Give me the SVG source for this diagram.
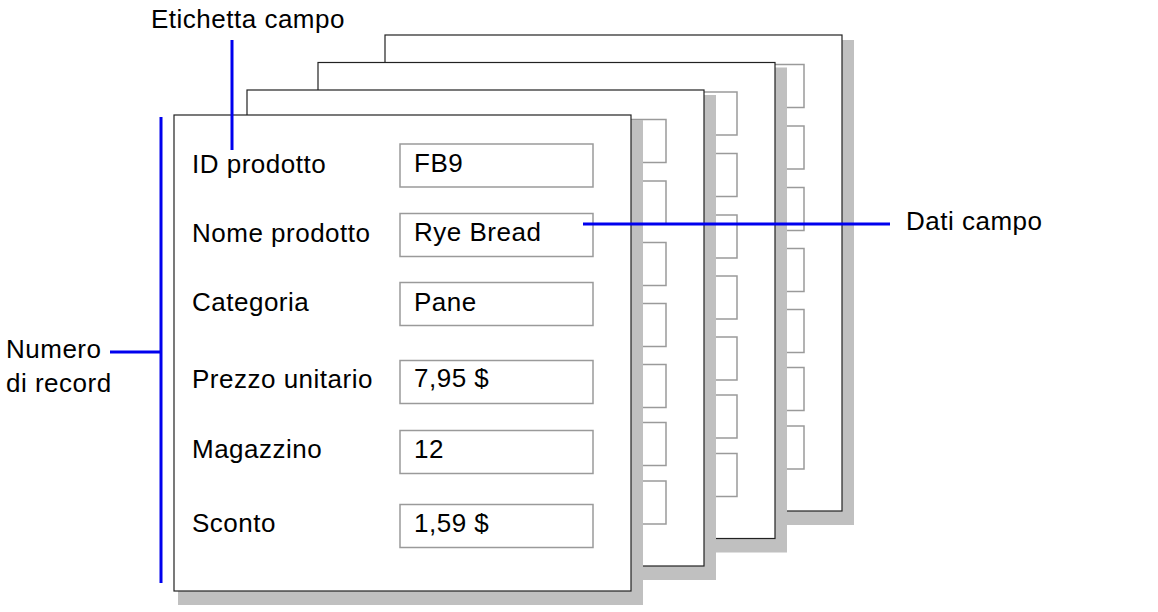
<svg xmlns="http://www.w3.org/2000/svg" width="1158" height="612" viewBox="0 0 1158 612">
  <style>
    .shadow { fill: #c0c0c0; stroke: none; }
    .page { fill: #ffffff; stroke: #222222; stroke-width: 1.2; }
    .box { fill: #ffffff; stroke: #9a9a9a; stroke-width: 1.5; }
    .txt { font-family: "Liberation Sans", Arial, Helvetica, sans-serif; font-size: 26px; letter-spacing: 0.5px; fill: #000000; }
    .lead { stroke: #0000ee; stroke-width: 3; fill: none; }
  </style>
  <defs>
    <g id="backpage">
      <rect class="shadow" x="4" y="5" width="465" height="485"/>
      <rect class="page" x="0" y="0" width="457" height="476"/>
      <rect class="box" x="226" y="29.5" width="193" height="43"/>
      <rect class="box" x="226" y="91" width="193" height="43"/>
      <rect class="box" x="226" y="152.5" width="193" height="43"/>
      <rect class="box" x="226" y="213.5" width="193" height="43"/>
      <rect class="box" x="226" y="274.5" width="193" height="43"/>
      <rect class="box" x="226" y="332.5" width="193" height="43"/>
      <rect class="box" x="226" y="391" width="193" height="43"/>
    </g>
  </defs>
  <rect x="0" y="0" width="1158" height="612" fill="#ffffff"/>

  <g id="record4"><use href="#backpage" x="385" y="35"/></g>
  <g id="record3"><use href="#backpage" x="318" y="62.5"/></g>
  <g id="record2"><use href="#backpage" x="247" y="90"/></g>

  <g id="record1">
    <rect class="shadow" x="178" y="120" width="465" height="485"/>
    <rect class="page" x="174" y="115" width="457" height="476"/>
    <rect class="box" x="400" y="144" width="193" height="43"/>
    <rect class="box" x="400" y="213.5" width="193" height="43"/>
    <rect class="box" x="400" y="282.5" width="193" height="43"/>
    <rect class="box" x="400" y="360.5" width="193" height="43"/>
    <rect class="box" x="400" y="430.5" width="193" height="43"/>
    <rect class="box" x="400" y="504.5" width="193" height="43"/>
    <text class="txt" x="192" y="173">ID prodotto</text>
    <text class="txt" x="192" y="242">Nome prodotto</text>
    <text class="txt" x="192" y="311">Categoria</text>
    <text class="txt" x="192" y="388">Prezzo unitario</text>
    <text class="txt" x="192" y="458">Magazzino</text>
    <text class="txt" x="192" y="532">Sconto</text>
    <text class="txt" x="414" y="172">FB9</text>
    <text class="txt" x="414" y="241">Rye Bread</text>
    <text class="txt" x="414" y="311">Pane</text>
    <text class="txt" x="414" y="387">7,95 $</text>
    <text class="txt" x="414" y="458">12</text>
    <text class="txt" x="414" y="532">1,59 $</text>
  </g>

  <g id="connectors">
    <line class="lead" x1="232" y1="40" x2="232" y2="150"/>
    <line class="lead" x1="583" y1="224" x2="890" y2="224"/>
    <line class="lead" x1="161" y1="117" x2="161" y2="583"/>
    <line class="lead" x1="110" y1="352" x2="161" y2="352"/>
  </g>

  <g id="label-etichetta"><text class="txt" x="151" y="28">Etichetta campo</text></g>
  <g id="label-dati"><text class="txt" x="906" y="230">Dati campo</text></g>
  <g id="label-numero">
    <text class="txt" x="6" y="358">Numero</text>
    <text class="txt" x="6" y="392">di record</text>
  </g>
</svg>
